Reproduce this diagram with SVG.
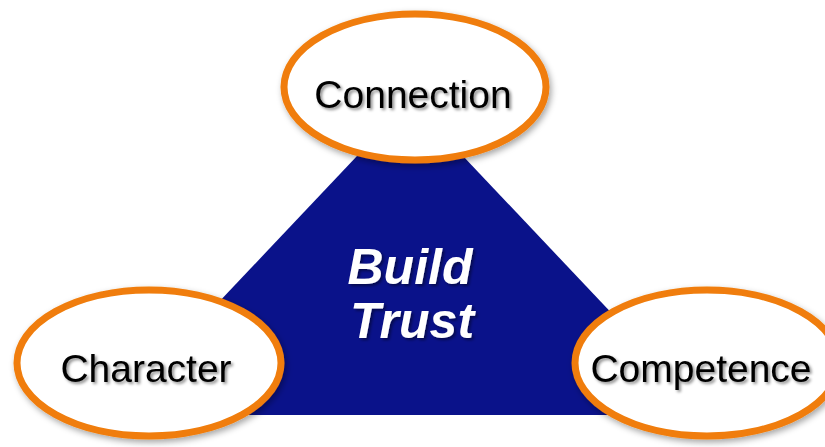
<svg xmlns="http://www.w3.org/2000/svg" width="825" height="447" viewBox="0 0 825 447">
  <defs>
    <filter id="softShadow" x="-20%" y="-20%" width="140%" height="140%">
      <feDropShadow dx="2" dy="3" stdDeviation="3" flood-color="#000" flood-opacity="0.35"/>
    </filter>
    <filter id="textShadow" x="-10%" y="-20%" width="120%" height="150%">
      <feDropShadow dx="2" dy="2" stdDeviation="1.5" flood-color="#000" flood-opacity="0.45"/>
    </filter>
  </defs>
  <style>
    .oval { fill: #ffffff; stroke: #f07d0a; stroke-width: 7; }
    .label { font-family: "Liberation Sans", Arial, sans-serif; font-size: 39px; fill: #000; text-anchor: middle; }
    .core { font-family: "Liberation Sans", Arial, sans-serif; font-size: 50px; font-weight: bold; font-style: italic; fill: #fff; text-anchor: middle; }
  </style>
  <rect width="825" height="447" fill="#ffffff"/>

  <!-- central triangle -->
  <g id="trust">
    <polygon points="410,100 112,415 708,415" fill="#0a128a"/>
    <g filter="url(#textShadow)">
      <text class="core" x="410" y="284">Build</text>
      <text class="core" x="412" y="338">Trust</text>
    </g>
  </g>

  <g id="connectors"></g>

  <g id="connection" filter="url(#softShadow)">
    <ellipse class="oval" cx="415" cy="87" rx="131" ry="73"/>
    <text class="label" x="413" y="108" filter="url(#textShadow)">Connection</text>
  </g>

  <g id="character" filter="url(#softShadow)">
    <ellipse class="oval" cx="149" cy="363" rx="132" ry="73"/>
    <text class="label" x="146" y="382" filter="url(#textShadow)">Character</text>
  </g>

  <g id="competence" filter="url(#softShadow)">
    <ellipse class="oval" cx="707" cy="363" rx="132" ry="73"/>
    <text class="label" x="701" y="382" filter="url(#textShadow)">Competence</text>
  </g>
</svg>
